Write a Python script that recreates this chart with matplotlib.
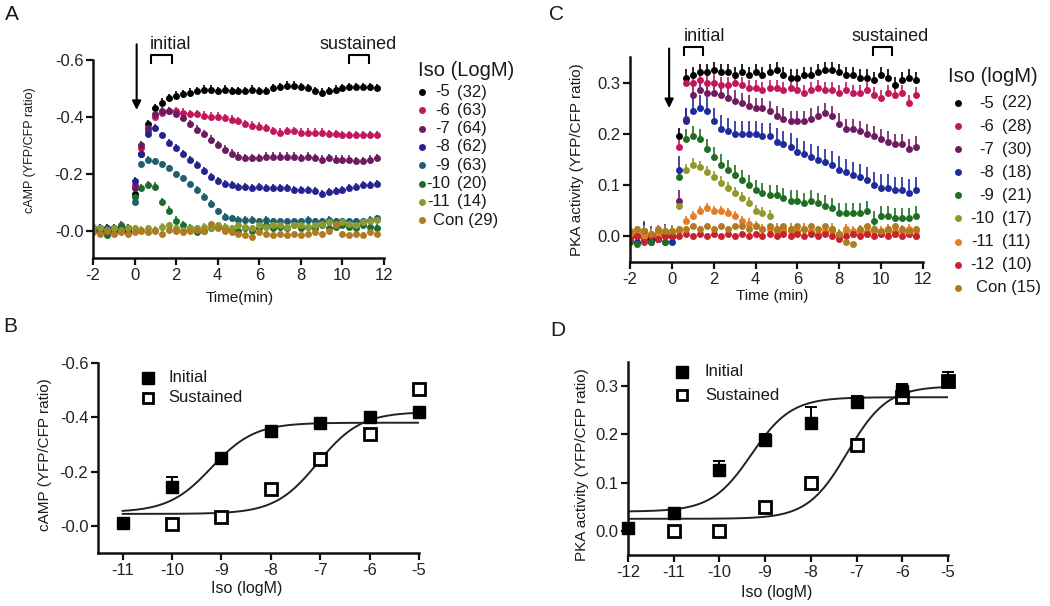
import numpy as np
import matplotlib.pyplot as plt
from matplotlib.lines import Line2D

plt.rcParams['font.family'] = ['Liberation Sans', 'DejaVu Sans']
plt.rcParams['text.color'] = '#1a1a1a'
plt.rcParams['axes.unicode_minus'] = False

W, H = 1050, 606


def px(x, y):
    # pixel position -> figure fraction
    return x / W, 1 - y / H


# one reading every 20 s, from -2 to 11.67 min
time = np.round(np.arange(-2, 11.9, 1 / 3), 2)

# ---- panel A : cAMP time course (plotted on an inverted axis)
a_doses = ['-5', '-6', '-7', '-8', '-9', '-10', '-11']
a_counts = ['(32)', '(63)', '(64)', '(62)', '(63)', '(20)', '(14)']
a_colors = ['#000000', '#c2185b', '#6b1b5f', '#24248f', '#1f5f6f', '#1e6b2e', '#8c9a2e', '#b07a22']
a_err = [0.016, 0.016, 0.016, 0.014, 0.012, 0.016, 0.012, 0.006]

camp_m5 = [-0.01, 0.0, -0.01, 0.0, -0.01, 0.0, -0.13,
           -0.27, -0.375, -0.43, -0.45, -0.465, -0.475,
           -0.48, -0.485, -0.49, -0.495, -0.495, -0.49,
           -0.495, -0.49, -0.49, -0.49, -0.495, -0.49,
           -0.49, -0.50, -0.505, -0.51, -0.51, -0.505,
           -0.50, -0.49, -0.485, -0.49, -0.495, -0.50,
           -0.505, -0.505, -0.505, -0.505, -0.50]
camp_m6 = [0.0, -0.01, 0.0, -0.01, 0.0, -0.01, -0.16,
           -0.29, -0.35, -0.40, -0.415, -0.42, -0.42,
           -0.415, -0.41, -0.41, -0.405, -0.40, -0.40,
           -0.395, -0.39, -0.385, -0.375, -0.37, -0.365,
           -0.36, -0.35, -0.345, -0.35, -0.35, -0.345,
           -0.345, -0.345, -0.345, -0.34, -0.34, -0.335,
           -0.335, -0.335, -0.335, -0.335, -0.335]
camp_m7 = [-0.01, 0.0, 0.0, -0.01, 0.0, 0.0, -0.15,
           -0.30, -0.36, -0.41, -0.42, -0.42, -0.41,
           -0.395, -0.375, -0.355, -0.34, -0.32, -0.30,
           -0.285, -0.27, -0.26, -0.255, -0.255, -0.255,
           -0.26, -0.26, -0.26, -0.26, -0.26, -0.255,
           -0.26, -0.255, -0.25, -0.255, -0.25, -0.25,
           -0.25, -0.245, -0.245, -0.25, -0.255]
camp_m8 = [0.0, -0.01, 0.0, 0.0, -0.01, 0.0, -0.175,
           -0.27, -0.34, -0.36, -0.335, -0.31, -0.29,
           -0.27, -0.25, -0.23, -0.21, -0.19, -0.175,
           -0.165, -0.16, -0.155, -0.155, -0.15, -0.155,
           -0.15, -0.15, -0.15, -0.15, -0.145, -0.145,
           -0.145, -0.14, -0.13, -0.135, -0.14, -0.145,
           -0.15, -0.155, -0.16, -0.16, -0.165]
camp_m9 = [-0.01, 0.0, -0.01, 0.0, 0.0, -0.01, -0.10,
           -0.235, -0.25, -0.245, -0.235, -0.22, -0.20,
           -0.185, -0.165, -0.145, -0.12, -0.095, -0.07,
           -0.05, -0.045, -0.04, -0.04, -0.04, -0.035,
           -0.04, -0.035, -0.035, -0.035, -0.035, -0.035,
           -0.04, -0.035, -0.035, -0.04, -0.035, -0.035,
           -0.035, -0.035, -0.035, -0.04, -0.045]
camp_m10 = [-0.01, 0.0, 0.015, -0.01, -0.02, -0.01, -0.12,
            -0.15, -0.16, -0.155, -0.10, -0.07, -0.035,
            -0.02, -0.01, 0.005, 0.0, -0.01, -0.015,
            -0.01, -0.005, 0.0, -0.01, 0.0, -0.01,
            -0.02, -0.01, -0.015, -0.01, -0.02, -0.01,
            -0.015, -0.01, -0.02, -0.01, -0.015, -0.02,
            -0.015, -0.01, -0.02, -0.015, -0.01]
camp_m11 = [-0.015, -0.01, -0.005, -0.01, -0.005, -0.01, -0.01,
            -0.005, -0.01, -0.005, -0.015, -0.02, -0.01,
            -0.005, -0.01, -0.01, -0.015, -0.01, -0.02,
            -0.015, -0.01, -0.02, -0.015, -0.01, -0.02,
            -0.015, -0.02, -0.02, -0.015, -0.02, -0.02,
            -0.015, -0.02, -0.025, -0.03, -0.025, -0.03,
            -0.025, -0.02, -0.03, -0.035, -0.04]
camp_con = [0.005, 0.01, 0.0, 0.01, 0.005, 0.01, 0.005,
            0.0, 0.005, 0.0, 0.01, -0.005, 0.0,
            0.005, 0.0, -0.005, 0.0, -0.025, -0.01,
            0.0, 0.005, 0.01, 0.015, 0.02, 0.005,
            0.01, 0.015, 0.01, 0.015, 0.01, 0.015,
            0.01, 0.005, 0.01, 0.0, -0.02, 0.01,
            0.015, 0.01, 0.015, 0.005, 0.01]
camp_series = [camp_m5, camp_m6, camp_m7, camp_m8, camp_m9, camp_m10, camp_m11, camp_con]
a_legend = a_doses + ['Con']
a_legend_n = a_counts + ['(29)']

# ---- panel C : PKA activity time course
c_doses = ['-5', '-6', '-7', '-8', '-9', '-10', '-11', '-12']
c_counts = ['(22)', '(28)', '(30)', '(18)', '(21)', '(17)', '(11)', '(10)']
c_colors = ['#000000', '#c2185b', '#6e1b62', '#1f2a9c', '#1f6e22', '#8f9a28', '#e57d22', '#c8222e', '#b07a22']
c_err = [0.016, 0.016, 0.02, 0.026, 0.02, 0.012, 0.01, 0.005, 0.005]

pka_m5 = [0.005, 0.0, 0.01, -0.005, 0.0, 0.005, 0.0,
          0.195, 0.31, 0.315, 0.32, 0.32, 0.325,
          0.32, 0.32, 0.315, 0.32, 0.315, 0.32,
          0.315, 0.32, 0.325, 0.315, 0.31, 0.31,
          0.315, 0.315, 0.32, 0.325, 0.325, 0.32,
          0.315, 0.315, 0.31, 0.31, 0.305, 0.315,
          0.31, 0.295, 0.305, 0.31, 0.305]
pka_m6 = [0.0, 0.005, -0.005, 0.0, 0.005, 0.0, 0.0,
          0.175, 0.30, 0.30, 0.305, 0.30, 0.30,
          0.295, 0.295, 0.30, 0.295, 0.29, 0.29,
          0.285, 0.29, 0.29, 0.285, 0.29, 0.285,
          0.28, 0.285, 0.29, 0.285, 0.285, 0.28,
          0.285, 0.28, 0.28, 0.285, 0.275, 0.27,
          0.28, 0.275, 0.28, 0.26, 0.275]
pka_m7 = [0.005, 0.0, 0.01, 0.0, -0.005, 0.005, 0.0,
          0.07, 0.23, 0.275, 0.285, 0.28, 0.28,
          0.275, 0.27, 0.265, 0.26, 0.255, 0.25,
          0.25, 0.245, 0.235, 0.23, 0.225, 0.225,
          0.225, 0.23, 0.235, 0.24, 0.235, 0.22,
          0.21, 0.21, 0.205, 0.20, 0.195, 0.19,
          0.185, 0.18, 0.18, 0.17, 0.175]
pka_m8 = [-0.005, -0.01, 0.0, -0.01, -0.005, -0.01, -0.01,
          0.13, 0.225, 0.245, 0.25, 0.245, 0.225,
          0.21, 0.205, 0.20, 0.20, 0.20, 0.20,
          0.195, 0.195, 0.185, 0.18, 0.175, 0.165,
          0.16, 0.155, 0.15, 0.145, 0.14, 0.13,
          0.125, 0.12, 0.115, 0.11, 0.10, 0.095,
          0.095, 0.09, 0.09, 0.085, 0.09]
pka_m9 = [-0.01, -0.015, -0.005, -0.01, 0.0, -0.01, 0.0,
          0.115, 0.19, 0.195, 0.19, 0.17, 0.155,
          0.14, 0.13, 0.12, 0.11, 0.10, 0.09,
          0.085, 0.08, 0.08, 0.075, 0.07, 0.07,
          0.065, 0.07, 0.065, 0.06, 0.055, 0.045,
          0.045, 0.045, 0.045, 0.05, 0.03, 0.04,
          0.04, 0.035, 0.035, 0.035, 0.04]
pka_m10 = [0.01, 0.005, 0.01, 0.005, 0.01, 0.01, 0.01,
           0.06, 0.13, 0.14, 0.135, 0.125, 0.115,
           0.105, 0.095, 0.085, 0.075, 0.065, 0.05,
           0.045, 0.04, 0.015, 0.01, 0.015, 0.01,
           0.015, 0.01, 0.005, 0.01, 0.015, 0.0,
           0.01, 0.005, 0.01, 0.005, 0.01, 0.005,
           0.01, 0.005, 0.01, 0.005, 0.0]
pka_m11 = [0.005, 0.01, 0.0, 0.005, 0.0, 0.005, 0.005,
           0.01, 0.03, 0.04, 0.05, 0.055, 0.05,
           0.05, 0.045, 0.04, 0.03, 0.025, 0.02,
           0.015, 0.015, 0.01, 0.015, 0.01, 0.01,
           0.015, 0.01, 0.005, 0.01, 0.01, 0.005,
           0.015, 0.01, 0.005, 0.01, 0.015, 0.01,
           0.015, 0.01, 0.01, 0.015, 0.01]
pka_m12 = [-0.005, 0.0, -0.01, 0.0, -0.005, 0.0, 0.0,
           0.0, 0.005, 0.0, 0.005, 0.0, 0.005,
           0.0, 0.005, 0.0, 0.005, 0.0, 0.005,
           0.0, 0.005, 0.0, 0.005, 0.0, 0.005,
           0.0, 0.005, 0.0, 0.005, 0.0, -0.005,
           0.0, 0.005, 0.0, 0.005, 0.0, 0.005,
           0.0, 0.005, 0.0, 0.005, 0.0]
pka_con = [0.01, 0.015, 0.01, 0.005, 0.015, 0.01, 0.01,
           0.015, 0.015, 0.02, 0.015, 0.02, 0.015,
           0.02, 0.015, 0.02, 0.02, 0.015, 0.02,
           0.015, 0.02, 0.015, 0.02, 0.015, 0.02,
           0.015, 0.02, 0.015, 0.02, 0.015, 0.005,
           -0.01, -0.015, 0.015, 0.02, 0.015, 0.01,
           0.015, 0.02, 0.015, 0.01, 0.015]
pka_series = [pka_m5, pka_m6, pka_m7, pka_m8, pka_m9, pka_m10, pka_m11, pka_m12, pka_con]
c_legend = c_doses + ['Con']
c_legend_n = c_counts + ['(15)']

# ---- panel B : cAMP dose response
b_iso_init = [-11, -10, -9, -8, -7, -6, -5]
b_init = [-0.01, -0.145, -0.25, -0.35, -0.378, -0.40, -0.42]
b_init_err = [0.005, 0.035, 0.01, 0.01, 0.01, 0.01, 0.01]
b_iso_sust = [-10, -9, -8, -7, -6, -5]
b_sust = [-0.006, -0.034, -0.134, -0.246, -0.338, -0.505]
b_sust_err = [0.005, 0.005, 0.012, 0.012, 0.02, 0.015]
# fitted curves: bottom, top, logEC50
b_fit_init = (-0.05, -0.38, -9.2)
b_fit_sust = (-0.044, -0.42, -7.05)

# ---- panel D : PKA dose response
d_iso_init = [-12, -11, -10, -9, -8, -7, -6, -5]
d_init = [0.005, 0.037, 0.126, 0.188, 0.224, 0.267, 0.29, 0.311]
d_init_err = [0.003, 0.005, 0.018, 0.012, 0.032, 0.013, 0.015, 0.018]
d_iso_sust = [-11, -10, -9, -8, -7, -6, -5]
d_sust = [0.0, 0.0, 0.049, 0.10, 0.178, 0.277, 0.31]
d_sust_err = [0.003, 0.003, 0.006, 0.012, 0.012, 0.01, 0.01]
d_fit_init = (0.04, 0.277, -9.3)
d_fit_sust = (0.025, 0.30, -7.2)


def hill(x, bottom, top, logec50):
    return bottom + (top - bottom) / (1 + 10 ** (logec50 - x))


def style(ax):
    for s in ['top', 'right']:
        ax.spines[s].set_visible(False)
    for s in ['left', 'bottom']:
        ax.spines[s].set_linewidth(1.8)
        ax.spines[s].set_color('#111111')
    ax.tick_params(direction='out', length=5, width=1.6, labelsize=12,
                   colors='#111111', labelcolor='#222222', pad=2)


def dot(x, y, col, **kw):
    fig.add_artist(Line2D([px(x, y)[0]], [px(x, y)[1]], transform=fig.transFigure,
                          color=col, **kw))


fig = plt.figure(figsize=(W / 100, H / 100), dpi=100)

# ================= A
axA = fig.add_axes([93 / W, 1 - 258 / H, (384 - 93) / W, (258 - 60) / H])
for vals, col, e in zip(camp_series, a_colors, a_err):
    v = np.array(vals)
    axA.errorbar(time, v, yerr=[np.full(len(v), e), np.zeros(len(v))], fmt='o', ms=5,
                 color=col, ecolor=col, elinewidth=1.2, capsize=2.6, capthick=1.2, mew=0)
axA.set_xlim(-2, 12)
axA.set_ylim(0.095, -0.6)
axA.set_xticks(range(-2, 13, 2))
axA.set_yticks([-0.6, -0.4, -0.2, 0.0])
axA.set_yticklabels(['-0.6', '-0.4', '-0.2', '-0.0'])
style(axA)
axA.annotate('', xy=(0.1, -0.415), xytext=(0.1, -0.665),
             arrowprops=dict(arrowstyle='-|>', color='k', lw=1.5, mutation_scale=13),
             annotation_clip=False)
axA.plot([0.8, 0.8, 1.8, 1.8], [-0.59, -0.617, -0.617, -0.59], color='k', lw=1.5, clip_on=False)
axA.plot([10.3, 10.3, 11.3, 11.3], [-0.59, -0.617, -0.617, -0.59], color='k', lw=1.5, clip_on=False)
axA.text(0.75, -0.655, 'initial', fontsize=13, va='center', ha='left')
axA.text(8.9, -0.655, 'sustained', fontsize=13, va='center', ha='left')
fig.text(*px(240, 298), 'Time(min)', fontsize=11, ha='center', va='center')
fig.text(*px(30, 150), 'cAMP (YFP/CFP ratio)', fontsize=9, rotation=90, ha='center', va='center')

fig.text(*px(418, 70), 'Iso (LogM)', fontsize=14.5, ha='left', va='center')
for i, (lab, n) in enumerate(zip(a_legend, a_legend_n)):
    y = 92 + 18.3 * i
    dot(422, y, a_colors[i], marker='o', ms=5, mew=0)
    if lab == 'Con':
        fig.text(*px(433, y), 'Con ' + n, fontsize=12, ha='left', va='center')
    else:
        fig.text(*px(450, y), lab, fontsize=12, ha='right', va='center')
        fig.text(*px(457, y), n, fontsize=12, ha='left', va='center')

# ================= C
axC = fig.add_axes([630 / W, 1 - 262 / H, 293 / W, (262 - 57) / H])
for vals, col, e in zip(pka_series, c_colors, c_err):
    v = np.array(vals)
    axC.errorbar(time, v, yerr=[np.zeros(len(v)), np.full(len(v), e)], fmt='o', ms=5,
                 color=col, ecolor=col, elinewidth=1.2, capsize=2.6, capthick=1.2, mew=0)
axC.set_xlim(-2, 12)
axC.set_ylim(-0.05, 0.35)
axC.set_xticks(range(-2, 13, 2))
axC.set_yticks([0.0, 0.1, 0.2, 0.3])
axC.set_yticklabels(['0.0', '0.1', '0.2', '0.3'])
style(axC)
axC.annotate('', xy=(-0.13, 0.245), xytext=(-0.13, 0.372),
             arrowprops=dict(arrowstyle='-|>', color='k', lw=1.5, mutation_scale=13),
             annotation_clip=False)
axC.plot([0.6, 0.6, 1.5, 1.5], [0.353, 0.369, 0.369, 0.353], color='k', lw=1.5, clip_on=False)
axC.plot([9.6, 9.6, 10.5, 10.5], [0.353, 0.369, 0.369, 0.353], color='k', lw=1.5, clip_on=False)
axC.text(0.55, 0.39, 'initial', fontsize=13, va='center', ha='left')
axC.text(8.6, 0.39, 'sustained', fontsize=13, va='center', ha='left')
fig.text(*px(772, 296), 'Time (min)', fontsize=11, ha='center', va='center')
fig.text(*px(577, 160), 'PKA activity (YFP/CFP ratio)', fontsize=11, rotation=90, ha='center', va='center')

fig.text(*px(948, 76), 'Iso (logM)', fontsize=14.5, ha='left', va='center')
for i, (lab, n) in enumerate(zip(c_legend, c_legend_n)):
    y = 103 + 23.1 * i
    dot(958, y, c_colors[i], marker='o', ms=5, mew=0)
    if lab == 'Con':
        fig.text(*px(976, y), 'Con ' + n, fontsize=12, ha='left', va='center')
    else:
        fig.text(*px(994, y), lab, fontsize=12, ha='right', va='center')
        fig.text(*px(1002, y), n, fontsize=12, ha='left', va='center')

# ================= B
axB = fig.add_axes([98 / W, 1 - 553 / H, 321 / W, 190 / H])
xf = np.linspace(-11, -5, 200)
axB.plot(xf, hill(xf, *b_fit_init), color='#222222', lw=1.4)
axB.plot(xf, hill(xf, *b_fit_sust), color='#222222', lw=1.4)
axB.errorbar(b_iso_sust, b_sust, yerr=[b_sust_err, np.zeros(len(b_sust))], fmt='s', ms=8,
             mfc='white', mec='k', mew=2, ecolor='k', elinewidth=1.4, capsize=4, capthick=1.4,
             clip_on=False, zorder=3)
axB.errorbar(b_iso_init, b_init, yerr=[b_init_err, np.zeros(len(b_init))], fmt='s', ms=8,
             color='k', ecolor='k', elinewidth=1.4, capsize=4, capthick=1.4, clip_on=False, zorder=4)
axB.set_xlim(-11.5, -5)
axB.set_ylim(0.1, -0.6)
axB.set_xticks(range(-11, -4))
axB.set_yticks([-0.6, -0.4, -0.2, 0.0])
axB.set_yticklabels(['-0.6', '-0.4', '-0.2', '-0.0'])
style(axB)
fig.text(*px(247, 588), 'Iso (logM)', fontsize=11.5, ha='center', va='center')
fig.text(*px(45, 455), 'cAMP (YFP/CFP ratio)', fontsize=11, rotation=90, ha='center', va='center')
dot(148, 378, 'k', marker='s', ms=8)
dot(148, 398, 'k', marker='s', ms=7, mfc='white', mec='k', mew=2)
fig.text(*px(168, 378), 'Initial', fontsize=12, ha='left', va='center')
fig.text(*px(168, 398), 'Sustained', fontsize=12, ha='left', va='center')

# ================= D
axD = fig.add_axes([628 / W, 1 - 555 / H, 320 / W, 193 / H])
xf = np.linspace(-12, -5, 200)
axD.plot(xf, hill(xf, *d_fit_init), color='#222222', lw=1.4)
axD.plot(xf, hill(xf, *d_fit_sust), color='#222222', lw=1.4)
axD.errorbar(d_iso_sust, d_sust, yerr=[np.zeros(len(d_sust)), d_sust_err], fmt='s', ms=8,
             mfc='white', mec='k', mew=2, ecolor='k', elinewidth=1.4, capsize=4, capthick=1.4,
             clip_on=False, zorder=3)
axD.errorbar(d_iso_init, d_init, yerr=[np.zeros(len(d_init)), d_init_err], fmt='s', ms=8,
             color='k', ecolor='k', elinewidth=1.4, capsize=4, capthick=1.4, clip_on=False, zorder=4)
axD.set_xlim(-12, -5)
axD.set_ylim(-0.05, 0.35)
axD.set_xticks(range(-12, -4))
axD.set_yticks([0.0, 0.1, 0.2, 0.3])
style(axD)
fig.text(*px(777, 592), 'Iso (logM)', fontsize=11.5, ha='center', va='center')
fig.text(*px(582, 465), 'PKA activity (YFP/CFP ratio)', fontsize=11, rotation=90, ha='center', va='center')
dot(682, 372, 'k', marker='s', ms=8)
dot(682, 395, 'k', marker='s', ms=7, mfc='white', mec='k', mew=2)
fig.text(*px(705, 372), 'Initial', fontsize=12, ha='left', va='center')
fig.text(*px(705, 395), 'Sustained', fontsize=12, ha='left', va='center')

# panel letters
for letter, (x, y) in zip('ABCD', [(12, 14), (10, 327), (557, 14), (558, 330)]):
    fig.text(*px(x, y), letter, fontsize=15, ha='center', va='center')

fig.savefig('out.png', dpi=100)
